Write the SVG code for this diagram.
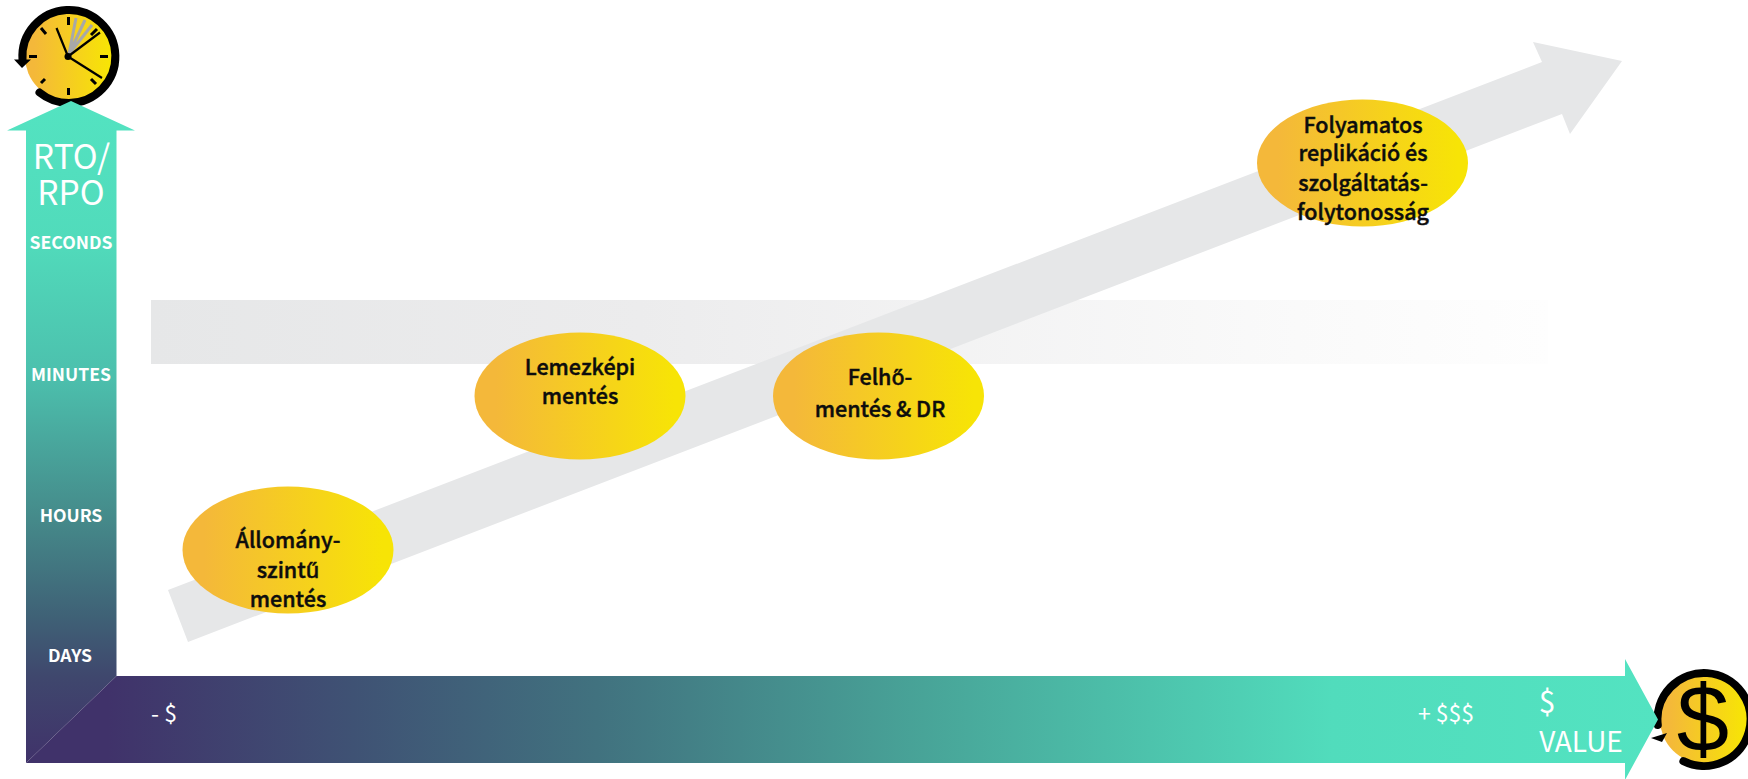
<svg xmlns="http://www.w3.org/2000/svg" width="1748" height="779" viewBox="0 0 1748 779">
<style>
text{font-family:"Noto Sans CJK SC","Noto Sans",sans-serif;text-anchor:middle}
.n{font-size:21.500px;font-weight:500;fill:#0d0d0d;stroke:#0d0d0d;stroke-width:.45}
.w{fill:#fff}
.s{font-size:17.600px;font-weight:700;fill:#fff}
</style>
<defs>
<linearGradient id="y" x1="0" x2="1" y1="0" y2="0"><stop offset="0.1" stop-color="#f4b83a"/><stop offset="0.95" stop-color="#f7e406"/></linearGradient>
<linearGradient id="v" gradientUnits="userSpaceOnUse" x1="0" x2="0" y1="763" y2="101"><stop offset="0" stop-color="#40326a"/><stop offset="0.13" stop-color="#3f476d"/><stop offset="0.22" stop-color="#3f6176"/><stop offset="0.37" stop-color="#458a8a"/><stop offset="0.585" stop-color="#4cc0ad"/><stop offset="0.79" stop-color="#51dbbb"/><stop offset="1" stop-color="#53e3c1"/></linearGradient>
<linearGradient id="h" gradientUnits="userSpaceOnUse" x1="26" x2="1658" y1="0" y2="0"><stop offset="0.05" stop-color="#40326a"/><stop offset="0.2" stop-color="#3f5274"/><stop offset="0.35" stop-color="#41727f"/><stop offset="0.55" stop-color="#48a498"/><stop offset="0.8" stop-color="#51dcbc"/><stop offset="1" stop-color="#53e3c1"/></linearGradient>
<linearGradient id="b" x1="0" x2="1" y1="0" y2="0"><stop offset="0" stop-color="#e6e7e8"/><stop offset="0.35" stop-color="#ececed"/><stop offset="0.82" stop-color="#fafafa"/><stop offset="1" stop-color="#fefefe"/></linearGradient>
</defs>
<g id="band"><rect x="151" y="300" width="1397" height="64" fill="url(#b)"/></g>
<g id="node-clock">
<circle cx="69" cy="56.500" r="44" fill="url(#y)"/>
<path d="M39.500,92.500 A46.500,46.500 0 0 0 69,103 A46.500,46.500 0 1 0 22.500,60" fill="none" stroke="#000" stroke-width="8" stroke-linecap="round"/>
<polygon points="14,59.500 31,59.500 22,68" fill="#000"/>
<path d="M69,54 L76,18M69,54 L85,20M69,54 L92,25" stroke="#a8a8a8" stroke-width="3" fill="none"/>
<path d="M68.500,17V25M68.500,88V95M29,56.500H37M100,56.500H108M41,28L46,34M91,79L96,84M41,83L45,79M91,35L97,29" stroke="#000" stroke-width="3" fill="none"/>
<path d="M68,56.500L56.500,28M68,56.500L100,32.500M68,56.500L102,78" stroke="#000" stroke-width="2.200" fill="none"/>
<circle cx="68" cy="56.500" r="3.500" fill="#000"/>
</g>
<g id="node-dollar">
<circle cx="1704" cy="719.500" r="44" fill="url(#y)"/>
<path d="M1683.400,761.200 A46.500,46.500 0 1 0 1657.800,725" fill="none" stroke="#000" stroke-width="8" stroke-linecap="round"/>
<polygon points="1651,738 1667,733 1662,742" fill="#000"/>
<text x="1703" y="750.500" style="font-family:'Liberation Sans',sans-serif;font-size:94px;fill:#000">$</text>
</g>
<g id="connectors">
<polygon id="trend-arrow" points="168,590 1542,62 1533,42 1622,61 1570,134 1562,114 188,642" fill="#e6e7e8"/>
<polygon id="rto-axis" points="26,763 26,130.500 7,130.500 71,101 135,130.500 116.500,130.500 116.500,676 26,763" fill="url(#v)"/>
<polygon id="value-axis" points="26,763 116.500,676 1625,676 1625,659 1658,719.500 1625,780 1625,763" fill="url(#h)"/>
</g>
<g id="label-rto"><text class="w" x="71.500" y="168.500" font-size="33.500">RTO/</text><text class="w" x="71" y="205" font-size="33.500">RPO</text></g>
<g id="label-seconds"><text class="s" x="71" y="249">SECONDS</text></g>
<g id="label-minutes"><text class="s" x="71" y="381">MINUTES</text></g>
<g id="label-hours"><text class="s" x="71" y="522">HOURS</text></g>
<g id="label-days"><text class="s" x="70" y="662">DAYS</text></g>
<g id="label-minus"><text class="w" x="164" y="722" font-size="23">- $</text></g>
<g id="label-plus"><text class="w" x="1446" y="722" font-size="23">+ $$$</text></g>
<g id="label-value"><text class="w" x="1547" y="713" font-size="30">$</text><text class="w" x="1581" y="752" font-size="28">VALUE</text></g>
<g id="node-1"><ellipse cx="288" cy="550" rx="105.500" ry="63.500" fill="url(#y)"/>
<text class="n" x="288" y="548">Állomány-</text><text class="n" x="288" y="578">szintű</text><text class="n" x="288" y="607">mentés</text></g>
<g id="node-2"><ellipse cx="580" cy="396" rx="105.500" ry="63.500" fill="url(#y)"/>
<text class="n" x="580" y="375">Lemezképi</text><text class="n" x="580" y="404">mentés</text></g>
<g id="node-3"><ellipse cx="878.500" cy="396" rx="105.500" ry="63.500" fill="url(#y)"/>
<text class="n" x="880" y="385">Felhő-</text><text class="n" x="880" y="417">mentés &amp; DR</text></g>
<g id="node-4"><ellipse cx="1362.500" cy="163" rx="105.500" ry="63.500" fill="url(#y)"/>
<text class="n" x="1363" y="133">Folyamatos</text><text class="n" x="1363" y="161">replikáció és</text><text class="n" x="1363" y="191">szolgáltatás-</text><text class="n" x="1363" y="220">folytonosság</text></g>
</svg>
